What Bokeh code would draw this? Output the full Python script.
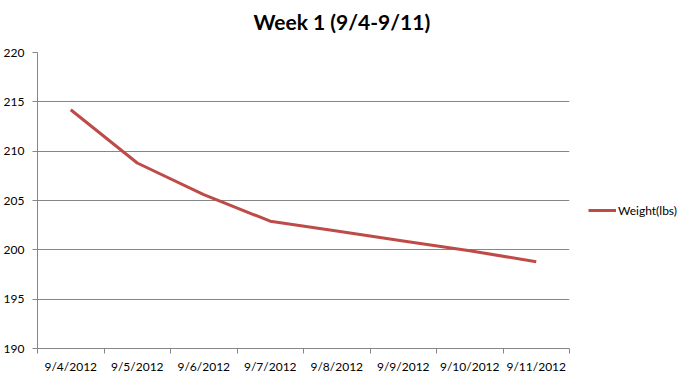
from bokeh.plotting import figure
from bokeh.models import FixedTicker, Legend, LegendItem, Range1d, Title
from bokeh.embed import file_html
from bokeh.resources import INLINE

dates = ["9/4/2012", "9/5/2012", "9/6/2012", "9/7/2012",
         "9/8/2012", "9/9/2012", "9/10/2012", "9/11/2012"]
weights = [214.2, 208.8, 205.6, 202.9, 201.9, 200.9, 199.9, 198.8]
y_ticks = [190, 195, 200, 205, 210, 215, 220]
series_name = "Weight(lbs)"
title_text = "Week 1 (9/4-9/11)"

xs = [i + 0.5 for i in range(len(dates))]
GRAY = "#868686"
RED = "#BE4B48"
FONT = "Lato"

p = figure(width=681, height=376, frame_width=532, frame_height=296,
           output_backend="svg", toolbar_location=None,
           x_range=Range1d(0, len(dates)), y_range=Range1d(190, 220),
           min_border_left=36, min_border_right=113,
           min_border_top=52, min_border_bottom=28)
p.outline_line_color = None
p.background_fill_color = "white"
p.border_fill_color = "white"

spacer = Title(text=" ", text_font_size="9px", standoff=7)
p.add_layout(spacer, "above")
main_title = Title(text=title_text, align="left", offset=216,
                   text_font=FONT, text_font_size="21px",
                   text_font_style="bold", text_color="black", standoff=0)
p.add_layout(main_title, "above")

r = p.line(xs, weights, line_color=RED, line_width=3)

# x axis
p.xaxis.ticker = FixedTicker(ticks=xs, minor_ticks=list(range(len(dates) + 1)))
p.xaxis.major_label_overrides = {x: d for x, d in zip(xs, dates)}
p.xaxis.major_tick_line_color = None
p.xaxis.minor_tick_line_color = GRAY
p.xaxis.minor_tick_out = 5
p.xaxis.minor_tick_in = 0
p.xaxis.axis_line_color = GRAY
p.xaxis.major_label_text_font = FONT
p.xaxis.major_label_text_font_size = "12px"
p.xaxis.major_label_text_color = "black"
p.xaxis.major_label_standoff = 4
p.xgrid.grid_line_color = None

# y axis
p.yaxis.ticker = FixedTicker(ticks=y_ticks, minor_ticks=[])
p.yaxis.major_tick_line_color = GRAY
p.yaxis.major_tick_out = 5
p.yaxis.major_tick_in = 0
p.yaxis.minor_tick_line_color = None
p.yaxis.axis_line_color = GRAY
p.yaxis.major_label_text_font = FONT
p.yaxis.major_label_text_font_size = "12px"
p.yaxis.major_label_text_color = "black"
p.yaxis.major_label_standoff = 8
p.ygrid.grid_line_color = GRAY
p.ygrid.grid_line_width = 1

legend = Legend(items=[LegendItem(label=series_name, renderers=[r])],
                location=(19, 128), padding=0, margin=0,
                border_line_color=None, background_fill_alpha=0,
                glyph_width=28, glyph_height=20, label_standoff=2,
                label_text_font=FONT, label_text_font_size="12px",
                label_text_color="black")
p.add_layout(legend, "right")

open("out.html", "w").write(file_html(p, INLINE))
